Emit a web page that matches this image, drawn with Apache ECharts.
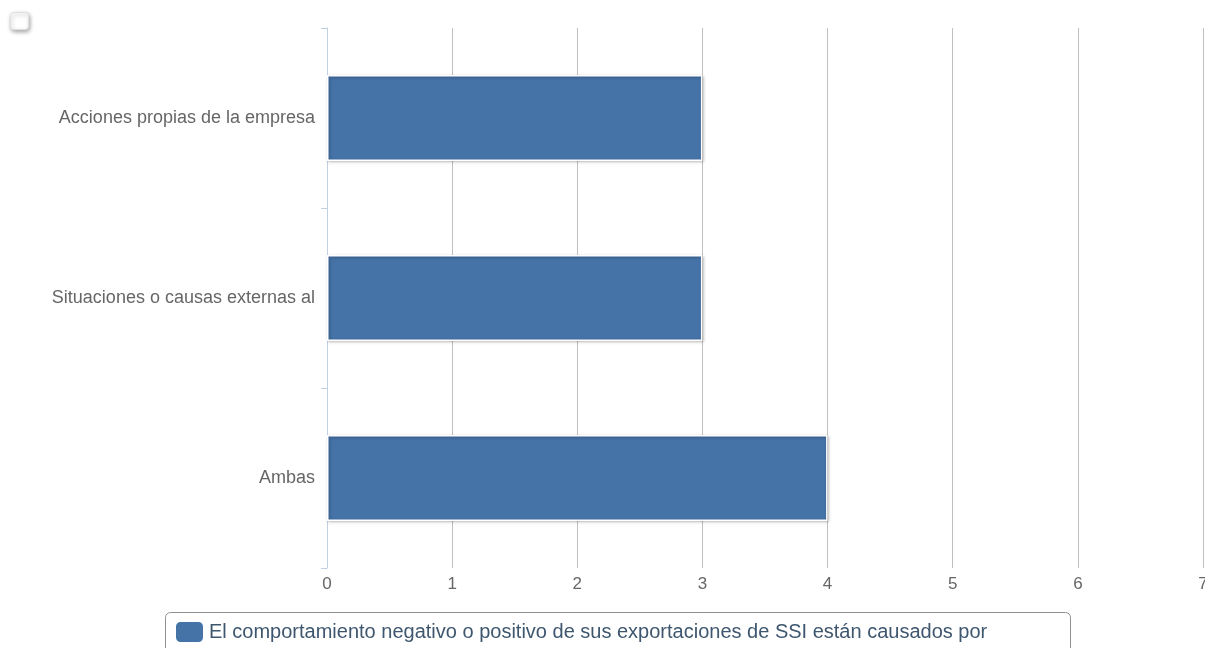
<!DOCTYPE html>
<html>
<head>
<meta charset="utf-8">
<script src="https://cdn.jsdelivr.net/npm/echarts@6/dist/echarts.min.js"></script>
<style>
html,body{margin:0;padding:0;background:#fff;overflow:hidden;}
#chart{width:1205px;height:648px;}
</style>
</head>
<body>
<div id="chart"></div>
<script>
const categories = ["Acciones propias de la empresa", "Situaciones o causas externas al", "Ambas"];
const seriesName = "El comportamiento negativo o positivo de sus exportaciones de SSI están causados por";
const values = [3, 3, 4];
const xTicks = [0, 1, 2, 3, 4, 5, 6, 7];

const chart = echarts.init(document.getElementById('chart'));
const font = "'Liberation Sans', Arial, sans-serif";
chart.setOption({
  animation: false,
  textStyle: { fontFamily: font },
  grid: { left: 327, right: 2, top: 28, bottom: 80, containLabel: false, outerBoundsMode: 'none' },
  xAxis: {
    type: 'value',
    min: xTicks[0],
    max: xTicks[xTicks.length - 1],
    interval: 1,
    axisLine: { show: false },
    axisTick: { show: false },
    splitLine: { show: true, lineStyle: { color: '#c0c0c0', width: 1 } },
    axisLabel: { color: '#666', fontSize: 17, margin: 8, fontFamily: font }
  },
  yAxis: {
    type: 'category',
    data: categories,
    inverse: true,
    axisLine: { show: true, lineStyle: { color: '#c0d0e0', width: 1 } },
    axisTick: { show: true, length: 6, lineStyle: { color: '#c0d0e0' } },
    axisLabel: { color: '#666', fontSize: 18, margin: 12, fontFamily: font, padding: [4, 0, 0, 0] }
  },
  legend: {
    show: true,
    left: 174,
    top: 620,
    itemWidth: 29,
    itemHeight: 22,
    itemGap: 10,
    padding: 0,
    icon: 'roundRect',
    textStyle: { color: '#3e576f', fontSize: 20, fontFamily: font, padding: [2, 0, 0, 0] },
    data: [seriesName]
  },
  graphic: [
    {
      type: 'rect',
      left: 163, top: 610,
      shape: { width: 905, height: 60, r: 5 },
      style: { fill: 'none', stroke: '#909090', lineWidth: 1 },
      z: -1
    },
    {
      type: 'rect',
      left: 10, top: 12,
      shape: { width: 18, height: 17, r: 3 },
      style: { fill: '#fff', stroke: '#e0e0e0', lineWidth: 1, shadowColor: 'rgba(0,0,0,0.35)', shadowBlur: 4, shadowOffsetX: 1, shadowOffsetY: 2 }
    }
  ],
  series: [{
    type: 'bar',
    name: seriesName,
    data: values,
    barWidth: 86,
    itemStyle: {
      color: '#4572a7',
      borderColor: '#ffffff',
      borderWidth: 1.5,
      shadowColor: 'rgba(0,0,0,0.3)',
      shadowBlur: 3,
      shadowOffsetX: 1,
      shadowOffsetY: 1
    }
  }]
});
</script>
</body>
</html>
